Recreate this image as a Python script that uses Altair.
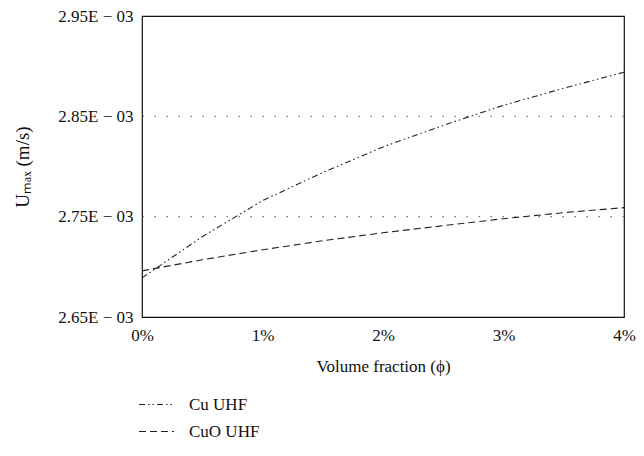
import altair as alt
import pandas as pd

phi = [0.0, 0.5, 1.0, 1.5, 2.0, 2.5, 3.0, 3.5, 4.0]
cu_uhf = [0.002689, 0.002730, 0.002766, 0.002794, 0.0028195, 0.002841, 0.002861, 0.002878, 0.002894]
cuo_uhf = [0.002696, 0.002707, 0.002717, 0.002726, 0.002734, 0.002741, 0.002748, 0.002754, 0.002759]
series = ["Cu UHF", "CuO UHF"]
y_ticks = [0.00265, 0.00275, 0.00285, 0.00295]
x_ticks = [0, 1, 2, 3, 4]
grid_vals = [0.00275, 0.00285]

rows = []
for name, vals in zip(series, [cu_uhf, cuo_uhf]):
    for p, v in zip(phi, vals):
        rows.append({"phi": p, "u": v, "series": name})
df = pd.DataFrame(rows)
grid_df = pd.DataFrame({"g": grid_vals})

FONT = "Liberation Serif"

xscale = alt.Scale(domain=[0, 4], nice=False, zero=False)
yscale = alt.Scale(domain=[0.00265, 0.00295], nice=False, zero=False)

grid = alt.Chart(grid_df).mark_rule(color="#777", strokeDash=[1.5, 10.5], strokeWidth=1.2).encode(
    y=alt.Y("g:Q", scale=yscale)
)

lines = alt.Chart(df).mark_line(color="#222", strokeWidth=1.1).encode(
    x=alt.X("phi:Q", scale=xscale,
            axis=alt.Axis(values=x_ticks, labelExpr="datum.value + '%'", ticks=False, domain=False,
                          grid=False, title="Volume fraction (ϕ)", labelFont=FONT, labelFontSize=17,
                          labelColor="#111", titleFont=FONT, titleFontSize=17, titleFontWeight="normal",
                          titleColor="#111", labelPadding=10, titlePadding=15,
                          labelFlush=False)),
    y=alt.Y("u:Q", scale=yscale,
            axis=alt.Axis(values=y_ticks, labelExpr="format(datum.value*1000, '.2f') + 'E − 03'",
                          ticks=False, domain=False, grid=False, title="Uₘₐₓ (m/s)",
                          labelFont=FONT, labelFontSize=17, labelColor="#111", titleFont=FONT,
                          titleFontSize=19, titleFontWeight="normal", titleColor="#111",
                          labelPadding=9, titlePadding=25, labelFlush=False)),
    strokeDash=alt.StrokeDash("series:N",
                              scale=alt.Scale(domain=series, range=[[6, 3, 1.5, 3, 1.5, 3], [7, 4]]),
                              legend=alt.Legend(title=None, orient="none", legendX=-4, legendY=370,
                                                symbolType="stroke", symbolSize=1225,
                                                symbolStrokeColor="#222", symbolStrokeWidth=1.1,
                                                labelFont=FONT, labelFontSize=17, labelColor="#111",
                                                labelOffset=14, rowPadding=0)),
)

chart = (grid + lines).properties(
    width=482, height=301,
    autosize=alt.AutoSizeParams(type="none"),
    padding={"left": 134, "top": 8, "right": 12, "bottom": 131},
).configure_view(stroke="#111", strokeWidth=1.2)

chart.save("out.html", embed_options={"renderer": "svg", "actions": False})
